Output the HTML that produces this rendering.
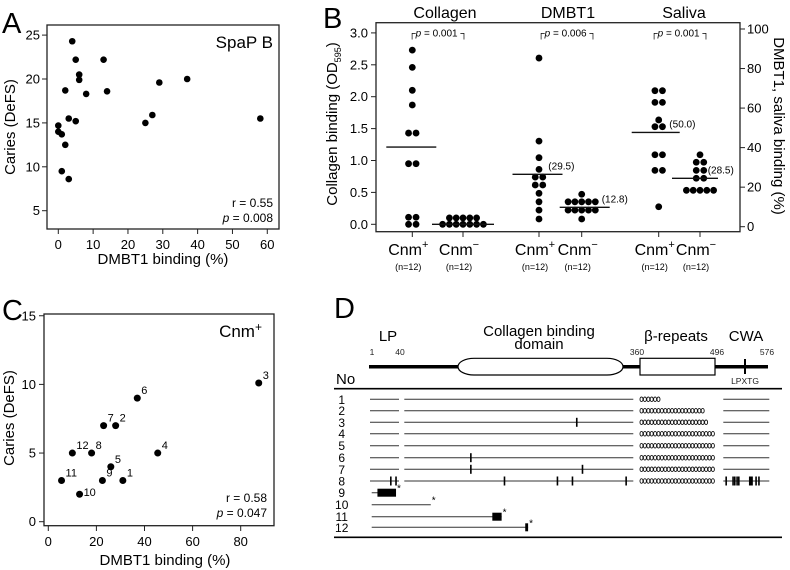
<!DOCTYPE html>
<html><head><meta charset="utf-8">
<style>
html,body{margin:0;padding:0;background:#fff;}
svg{display:block;font-family:"Liberation Sans",Arial,sans-serif;}
</style></head>
<body>
<svg id="fig" width="790" height="570" viewBox="0 0 790 570" xmlns="http://www.w3.org/2000/svg">
<g>
<text x="2" y="33" font-size="29">A</text>
<rect x="47" y="25" width="232" height="204" fill="none" stroke="#222" stroke-width="1.3"/>
<text x="273" y="48" font-size="17" text-anchor="end">SpaP B</text>
<text x="273" y="207" font-size="12" text-anchor="end">r = 0.55</text>
<text x="273" y="222" font-size="12" text-anchor="end"><tspan font-style="italic">p</tspan> = 0.008</text>
<text x="163" y="264" font-size="15" text-anchor="middle">DMBT1 binding (%)</text>
<text transform="translate(15,127) rotate(-90)" font-size="15" text-anchor="middle">Caries (DeFS)</text>
<g id="a-axes"></g>
<g id="a-dots"></g>
</g>
<g>
<text x="323" y="28" font-size="29">B</text>
<rect x="376" y="22.7" width="364" height="209" fill="none" stroke="#222" stroke-width="1.3"/>
<text x="445" y="18" font-size="16" text-anchor="middle">Collagen</text>
<text x="568" y="18" font-size="16" text-anchor="middle">DMBT1</text>
<text x="684" y="18" font-size="16" text-anchor="middle">Saliva</text>
<text transform="translate(337,124) rotate(-90)" font-size="15" text-anchor="middle">Collagen binding (OD<tspan font-size="9" dy="4">595</tspan><tspan dy="-4">)</tspan></text>
<text transform="translate(774,126) rotate(90)" font-size="15" text-anchor="middle">DMBT1, saliva binding (%)</text>
<g id="b-axes"></g>
<g id="b-dots"></g>
</g>
<g>
<text x="2" y="320" font-size="29">C</text>
<rect x="44" y="314" width="230" height="211.7" fill="none" stroke="#222" stroke-width="1.3"/>
<text x="262" y="337" font-size="17" text-anchor="end">Cnm<tspan font-size="12" dy="-6">+</tspan></text>
<text x="267" y="502" font-size="12" text-anchor="end">r = 0.58</text>
<text x="267" y="517" font-size="12" text-anchor="end"><tspan font-style="italic">p</tspan> = 0.047</text>
<text x="165" y="565" font-size="15" text-anchor="middle">DMBT1 binding (%)</text>
<text transform="translate(14,418) rotate(-90)" font-size="15" text-anchor="middle">Caries (DeFS)</text>
<g id="c-axes"></g>
<g id="c-dots"></g>
</g>
<g>
<text x="334" y="318" font-size="29">D</text>
<text x="388" y="341" font-size="15" text-anchor="middle">LP</text>
<text x="539" y="336" font-size="15" text-anchor="middle">Collagen binding</text>
<text x="539" y="349" font-size="15" text-anchor="middle">domain</text>
<text x="676" y="341" font-size="15" text-anchor="middle">β-repeats</text>
<text x="746" y="341" font-size="15" text-anchor="middle">CWA</text>
<g font-size="8.5" text-anchor="middle" fill="#222">
<text x="372" y="355">1</text>
<text x="400" y="355">40</text>
<text x="637" y="355">360</text>
<text x="717" y="355">496</text>
<text x="767" y="355">576</text>
<text x="745" y="384">LPXTG</text>
</g>
<line x1="369" y1="366.7" x2="768" y2="366.7" stroke="#000" stroke-width="3.5"/>
<rect x="458" y="358.3" width="165" height="16.7" rx="16" ry="8.3" fill="#fff" stroke="#000" stroke-width="1.2"/>
<rect x="640" y="358.3" width="75" height="16.7" fill="#fff" stroke="#000" stroke-width="1.2"/>
<line x1="745" y1="359" x2="745" y2="374" stroke="#000" stroke-width="2"/>
<text x="336" y="384" font-size="15">No</text>
<line x1="334" y1="388.7" x2="782" y2="388.7" stroke="#000" stroke-width="1.6"/>
<line x1="334" y1="537.3" x2="782" y2="537.3" stroke="#000" stroke-width="1.6"/>
<g id="d-rows"></g>
</g>
</svg>
<script>
// ---- Panel A data ----
const aBinding = [4,5,13,6,6,2,8,14,29,37,3,5,0,0,1,2,1,3,25,27,58];
const aCaries  = [24.3,22.2,22.2,20.5,19.9,18.7,18.3,18.6,19.6,20.0,15.5,15.2,14.7,14.0,13.7,12.5,9.5,8.6,15.0,15.9,15.5];
const aXTicks = [0,10,20,30,40,50,60];
const aYTicks = [5,10,15,20,25];
// ---- Panel B data ----
const bGroups = ["Collagen Cnm+","Collagen Cnm-","DMBT1 Cnm+","DMBT1 Cnm-","Saliva Cnm+","Saliva Cnm-"];
const bCollagenPos = [2.73,2.46,2.10,1.87,1.43,1.43,0.95,0.95,0.11,0.11,0,0];
const bCollagenNeg = [0.1,0.1,0.1,0.1,0.1,0,0,0,0,0,0,0];
const bDmbtPos = [85.3,43.3,34.9,29.0,25.1,25.1,21.1,21.1,16.9,12.6,8.4,3.9];
const bDmbtNeg = [16.4,12.6,12.6,12.6,12.6,12.6,8.4,8.4,8.4,8.4,8.4,3.9];
const bSalivaPos = [68.8,68.8,62.9,62.9,54,50.6,50.6,36.4,36.4,28.5,28.5,10.1];
const bSalivaNeg = [36.4,32.6,32.6,28.5,28.5,24.5,24.5,18.4,18.4,18.4,18.4,18.4];
const bMedians = [1.21,0,26.5,9.8,47.7,24.5];
const bMedianLabels = ["","","(29.5)","(12.8)","(50.0)","(28.5)"];
const bPValues = ["p = 0.001","p = 0.006","p = 0.001"];
const bLeftTicks = [0,0.5,1.0,1.5,2.0,2.5,3.0];
const bRightTicks = [0,20,40,60,80,100];
// ---- Panel C data ----
const cIds = [1,2,3,4,5,6,7,8,9,10,11,12];
const cBinding = [31,28,87.5,45.5,26,37,23,18,22.5,13,5.5,10];
const cCaries = [3,7,10.1,5,4,9,7,5,3,2,3,5];
const cXTicks = [0,20,40,60,80];
const cYTicks = [0,5,10,15];
// ---- Panel D data (amino-acid positions) ----
const dRepeatCount = [6,19,20,22,22,22,22,22];
const dMutations = [[],[],[281],[],[],[133],[133,289],[29,36,180,254,275,350,501,513,516,520,523,542,544,546,553,558]];
const dTruncEnd = [36,77,176,213];
const dTruncBlockStart = [11,0,163,209];

const NS="http://www.w3.org/2000/svg";
function mk(parent,tag,attrs,text){const e=document.createElementNS(NS,tag);for(const k in attrs)e.setAttribute(k,attrs[k]);if(text!==undefined)e.textContent=text;parent.appendChild(e);return e;}

const xA=v=>58.3+v*3.483, yA=v=>210.7-(v-5)*8.78;
const yBL=v=>224.3-v*63.8, yBR=v=>226.7-v*1.977;
const xC=v=>48.3+v*2.405, yC=v=>521.7-v*13.73;
const xD=aa=> aa<=40 ? 370+(aa-1)*(29/39) : (aa<=360 ? 404.3+(aa-40)*(229/320) : (aa<=496 ? 640+(aa-360)*(75/136) : 723.3+(aa-496)*(46/80)));

const aAx=document.getElementById('a-axes');
aXTicks.forEach(t=>{
  let l=mk(aAx,'line',{x1:xA(t),x2:xA(t),y1:229,y2:234,stroke:'#222'});
  
  
  let tx=mk(aAx,'text',{x:xA(t),y:249,'font-size':13,'text-anchor':'middle'},t);
  
  
});
aYTicks.forEach(t=>{
  let l=mk(aAx,'line',{x1:42,x2:47,y1:yA(t),y2:yA(t),stroke:'#222'});
  
  
  let tx=mk(aAx,'text',{x:40,y:yA(t)+4.5,'font-size':13,'text-anchor':'end'},t);
  
  
});
const aD=document.getElementById('a-dots');
aBinding.forEach((v,i)=>{
  let c=mk(aD,'circle',{cx:xA(v),cy:yA(aCaries[i]),r:3.3,fill:'#000'});
  
  
});

const bAx=document.getElementById('b-axes');
const bX=[412.3,463,539,581.7,658.7,700];
const bLabelDx=[0,0,9.3,20,10.6,7.7];
const bData=[bCollagenPos,bCollagenNeg,bDmbtPos,bDmbtNeg,bSalivaPos,bSalivaNeg];
const bScale=[yBL,yBL,yBR,yBR,yBR,yBR];
bLeftTicks.forEach(t=>{
  let l=mk(bAx,'line',{x1:371,x2:376,y1:yBL(t),y2:yBL(t),stroke:'#222'});
  
  
  let tx=mk(bAx,'text',{x:368,y:yBL(t)+4.5,'font-size':13,'text-anchor':'end'},t.toFixed(1));
  
  
});
bRightTicks.forEach(t=>{
  let l=mk(bAx,'line',{x1:740,x2:745,y1:yBR(t),y2:yBR(t),stroke:'#222'});
  
  
  let tx=mk(bAx,'text',{x:747,y:yBR(t)+4.5,'font-size':13,'text-anchor':'start'},t);
  
  
});
const bD=document.getElementById('b-dots');
bGroups.forEach((g,gi)=>{
  const cx=bX[gi], sc=bScale[gi], vals=bData[gi];
  let l=mk(bAx,'line',{x1:cx,x2:cx,y1:231.7,y2:237,stroke:'#222'});
  
  
  let lab=mk(bAx,'text',{x:cx-4,y:255,'font-size':16,'text-anchor':'middle'});
  
  
  lab.textContent='Cnm';
  mk(lab,'tspan',{'font-size':11,dy:-7},gi%2===0?'+':'−');
  let n=mk(bAx,'text',{x:cx-4,y:270,'font-size':9,'text-anchor':'middle'},'(n=12)');
  
  
  const counts={};vals.forEach(v=>{counts[v]=(counts[v]||0)+1;});
  const seen={};
  vals.forEach(v=>{
    const k=counts[v], idx=(seen[v]=(seen[v]||0)+1)-1;
    const sp=k>2?6.8:7.5;
    const dx=(idx-(k-1)/2)*sp;
    let c=mk(bD,'circle',{cx:cx+dx,cy:sc(v),r:3.4,fill:'#000'});
    
    
  });
  const halfW=[25,31,25,25,24,23][gi], shift=[-1,0,-1.5,3,-3,-5][gi];
  let m=mk(bD,'line',{x1:cx+shift-halfW,x2:cx+shift+halfW,y1:sc(bMedians[gi]),y2:sc(bMedians[gi]),stroke:'#111','stroke-width':1.4});
  
  
  if(bMedianLabels[gi]){
    let t=mk(bD,'text',{x:cx+bLabelDx[gi],y:sc(bMedians[gi])-5,'font-size':10},bMedianLabels[gi]);
    
    
  }
});
[438,567,680].forEach((x,i)=>{
  let t=mk(bAx,'text',{x:x,y:36.5,'font-size':10,'text-anchor':'middle'});
  
  
  t.textContent='┌';
  mk(t,'tspan',{'font-style':'italic'},'p');
  t.appendChild(document.createTextNode(bPValues[i].slice(1)+' ┐'));
});

const cAx=document.getElementById('c-axes');
cXTicks.forEach(t=>{
  let l=mk(cAx,'line',{x1:xC(t),x2:xC(t),y1:525.7,y2:531,stroke:'#222'});
  
  
  let tx=mk(cAx,'text',{x:xC(t),y:546,'font-size':13,'text-anchor':'middle'},t);
  
  
});
cYTicks.forEach(t=>{
  let l=mk(cAx,'line',{x1:39,x2:44,y1:yC(t),y2:yC(t),stroke:'#222'});
  
  
  let tx=mk(cAx,'text',{x:36,y:yC(t)+4.5,'font-size':13,'text-anchor':'end'},t);
  
  
});
const cD=document.getElementById('c-dots');
cIds.forEach((id,i)=>{
  const x=xC(cBinding[i]), y=yC(cCaries[i]);
  let c=mk(cD,'circle',{cx:x,cy:y,r:3.5,fill:'#000'});
  
  
  const dy=id===10?2:-4;
  let t=mk(cD,'text',{x:x+4,y:y+dy,'font-size':11},id);
  
  
});

const dR=document.getElementById('d-rows');
const rowY=[399.3,410.7,422.3,433.7,445.7,457.7,469.3,481,492.7,504.7,516.7,527.3];
rowY.forEach((y,i)=>{
  let n=mk(dR,'text',{x:341.7,y:y+4.5,'font-size':12,'text-anchor':'middle'},i+1);
  
  
  if(i<8){
    [[370,399],[404.3,633.3],[723.3,769.3]].forEach(s=>{
      let l=mk(dR,'line',{x1:s[0],x2:s[1],y1:y,y2:y,stroke:'#333','stroke-width':1});
      
      
    });
    for(let k=0;k<dRepeatCount[i];k++){
      let c=mk(dR,'ellipse',{cx:641.5+k*3.4,cy:y,rx:1.5,ry:2.3,fill:'none',stroke:'#111','stroke-width':0.9});
      
      
    }
    dMutations[i].forEach(aa=>{
      let m=mk(dR,'line',{x1:xD(aa),x2:xD(aa),y1:y-4.5,y2:y+4.5,stroke:'#000','stroke-width':1.6});
      
      
    });
  } else {
    const j=i-8, end=xD(dTruncEnd[j]);
    let l=mk(dR,'line',{x1:371.7,x2:end,y1:y,y2:y,stroke:'#333','stroke-width':1});
    
    
    if(dTruncBlockStart[j]>0){
      const bx=xD(dTruncBlockStart[j]);
      let b=mk(dR,'rect',{x:bx,y:y-4,width:Math.max(end-bx,2.5),height:8,fill:'#000'});
      
      
    }
    let s=mk(dR,'text',{x:end+1,y:y-1,'font-size':10},'*');
    
    
  }
});
</script>
</body></html>
